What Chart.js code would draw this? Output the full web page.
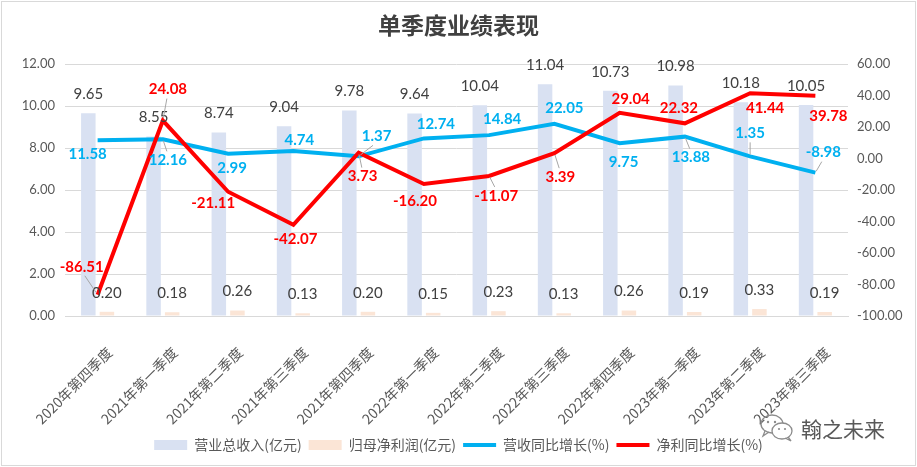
<!DOCTYPE html>
<html><head><meta charset="utf-8">
<script src="https://cdn.jsdelivr.net/npm/chart.js@4.4.0/dist/chart.umd.min.js"></script>
<style>
html,body{margin:0;padding:0;background:#fff;}
#wrap{position:relative;width:917px;height:467px;overflow:hidden;}
#frame{position:absolute;left:1px;top:1px;width:913px;height:463px;border:1px solid #D9D9D9;pointer-events:none;}
#wm{position:absolute;left:759px;top:413px;display:flex;align-items:center;font-family:'Noto Sans CJK SC',sans-serif;font-size:21px;color:#595959;white-space:nowrap;}
#wm svg{margin-right:6px;}
</style></head><body>
<div id="wrap">
<canvas id="c" width="917" height="467"></canvas>
<div id="frame"></div>
<div id="wm"><svg width="36" height="30" viewBox="0 0 36 30"><ellipse cx="13" cy="11" rx="11" ry="9" fill="none" stroke="#8c8c8c" stroke-width="1.3"/><path d="M6 18 L4 23 L10 19" fill="none" stroke="#8c8c8c" stroke-width="1.3"/><ellipse cx="23" cy="18" rx="10" ry="8" fill="#fff" stroke="#8c8c8c" stroke-width="1.3"/><path d="M29 24 L32 28 L26 25" fill="none" stroke="#8c8c8c" stroke-width="1.3"/><circle cx="9" cy="9" r="1.2" fill="#8c8c8c"/><circle cx="16" cy="9" r="1.2" fill="#8c8c8c"/><circle cx="20" cy="16" r="1.1" fill="#8c8c8c"/><circle cx="26" cy="16" r="1.1" fill="#8c8c8c"/></svg><span>翰之未来</span></div>
</div>
<script>
const categories = ['2020年第四季度','2021年第一季度','2021年第二季度','2021年第三季度','2021年第四季度','2022年第一季度','2022年第二季度','2022年第三季度','2022年第四季度','2023年第一季度','2023年第二季度','2023年第三季度'];
const revenue = [9.65, 8.55, 8.74, 9.04, 9.78, 9.64, 10.04, 11.04, 10.73, 10.98, 10.18, 10.05];
const netProfit = [0.20, 0.18, 0.26, 0.13, 0.20, 0.15, 0.23, 0.13, 0.26, 0.19, 0.33, 0.19];
const revenueGrowth = [11.58, 12.16, 2.99, 4.74, 1.37, 12.74, 14.84, 22.05, 9.75, 13.88, 1.35, -8.98];
const profitGrowth = [-86.51, 24.08, -21.11, -42.07, 3.73, -16.20, -11.07, 3.39, 29.04, 22.32, 41.44, 39.78];
const leftTicks = {min: 0, max: 12, step: 2};
const rightTicks = {min: -100, max: 60, step: 20};

const NUMFONT = 'Lato, "Liberation Sans", sans-serif';
const CJK = '"Noto Sans CJK SC", sans-serif';

const labelPlugin = {
  id: 'vlabels',
  afterDatasetsDraw(chart, args, opts) {
    const ctx = chart.ctx;
    chart.data.datasets.forEach((ds, di) => {
      const cfg = opts.sets[di];
      if (!cfg) return;
      const meta = chart.getDatasetMeta(di);
      meta.data.forEach((el, i) => {
        const v = ds.data[i];
        const off = cfg.offsets ? cfg.offsets[i] : [0, cfg.dy];
        const x = el.x + off[0], y = el.y + off[1];
        ctx.save();
        if (cfg.leaders && cfg.leaders[i]) {
          const s = Math.sign(off[1]);
          const ex = x - off[0] * 0.2, ey = y - s * 9;
          const sx = el.x + (ex - el.x) * 0.12, sy = el.y + (ey - el.y) * 0.12;
          ctx.strokeStyle = '#A6A6A6'; ctx.lineWidth = 1;
          ctx.beginPath(); ctx.moveTo(sx, sy); ctx.lineTo(ex, ey); ctx.stroke();
        }
        ctx.font = cfg.font;
        ctx.fillStyle = cfg.color;
        ctx.textAlign = 'center';
        ctx.textBaseline = 'middle';
        ctx.fillText(v.toFixed(2), x, y);
        ctx.restore();
      });
    });
  }
};

new Chart(document.getElementById('c'), {
  type: 'bar',
  data: {
    labels: categories,
    datasets: [
      {type: 'bar', label: '营业总收入(亿元)', data: revenue, backgroundColor: '#D9E1F2', yAxisID: 'y', order: 3, categoryPercentage: 0.57, barPercentage: 0.78},
      {type: 'bar', label: '归母净利润(亿元)', data: netProfit, backgroundColor: '#FBE5D6', yAxisID: 'y', order: 4, categoryPercentage: 0.57, barPercentage: 0.78},
      {type: 'line', label: '营收同比增长(%)', data: revenueGrowth, borderColor: '#00B0F0', backgroundColor: '#00B0F0', borderWidth: 4, pointRadius: 0, tension: 0, yAxisID: 'y1', order: 2},
      {type: 'line', label: '净利同比增长(%)', data: profitGrowth, borderColor: '#FF0000', backgroundColor: '#FF0000', borderWidth: 4, pointRadius: 0, tension: 0, yAxisID: 'y1', order: 1}
    ]
  },
  options: {
    responsive: false,
    animation: false,
    devicePixelRatio: 1,
    layout: {padding: {left: 0, right: 0, top: 0, bottom: 5}},
    plugins: {
      tooltip: {enabled: false},
      title: {
        display: true, text: '单季度业绩表现', color: '#404040',
        font: {family: CJK, size: 23, weight: 'bold'},
        padding: {top: 11, bottom: 25.4}
      },
      legend: {
        position: 'bottom',
        labels: {
          usePointStyle: true, pointStyleWidth: 33, boxHeight: 10, padding: 7,
          color: '#595959', font: {family: CJK, size: 14},
          generateLabels(chart) {
            return chart.data.datasets.map((ds, i) => ({
              text: ds.label,
              fillStyle: ds.type === 'line' ? ds.borderColor : ds.backgroundColor,
              strokeStyle: ds.type === 'line' ? ds.borderColor : ds.backgroundColor,
              lineWidth: ds.type === 'line' ? 4 : 0,
              pointStyle: ds.type === 'line' ? 'line' : 'rect',
              hidden: false, datasetIndex: i, fontColor: '#595959'
            }));
          }
        }
      },
      vlabels: {
        sets: {
          0: {dy: -19, color: '#404040', font: '15px ' + NUMFONT},
          1: {dy: -19, color: '#404040', font: '15px ' + NUMFONT},
          2: {color: '#00B0F0', font: 'bold 15px ' + NUMFONT,
              offsets: [[-10,14],[5,21],[4,14],[6,-11],[18,-20],[12,-14],[13,-16],[10,-16],[4,19],[6,21],[0,-23],[8,-20]],
              leaders: [0,1,0,0,1,0,0,0,0,1,1,1]},
          3: {color: '#FF0000', font: 'bold 15px ' + NUMFONT,
              offsets: [[-16,-28],[5,-31],[-15,11],[2,14],[4,24],[-9,17],[7,20],[6,24],[11,-14],[-6,-15],[15,15],[13,20]],
              leaders: [1,1,0,0,1,0,1,1,0,0,0,0]}
        }
      }
    },
    scales: {
      x: {
        grid: {display: false},
        border: {display: true, color: '#D9D9D9', width: 1},
        ticks: {autoSkip: false, minRotation: 45, maxRotation: 45, padding: 20, labelOffset: 12,
                color: '#595959', font: {family: CJK, size: 14}},
        afterFit(s) { s.height = 115; }
      },
      y: {
        position: 'left', min: leftTicks.min, max: leftTicks.max,
        grid: {color: '#D9D9D9', drawTicks: false},
        border: {display: false},
        ticks: {stepSize: leftTicks.step, padding: 10, color: '#595959', font: {family: NUMFONT, size: 13},
                callback: v => v.toFixed(2)},
        afterFit(s) { s.width = 65; }
      },
      y1: {
        position: 'right', min: rightTicks.min, max: rightTicks.max,
        grid: {display: false, drawTicks: false},
        border: {display: false},
        ticks: {stepSize: rightTicks.step, padding: 9, color: '#595959', font: {family: NUMFONT, size: 13},
                callback: v => v.toFixed(2)},
        afterFit(s) { s.width = 69; }
      }
    }
  },
  plugins: [labelPlugin]
});
</script>
</body></html>
